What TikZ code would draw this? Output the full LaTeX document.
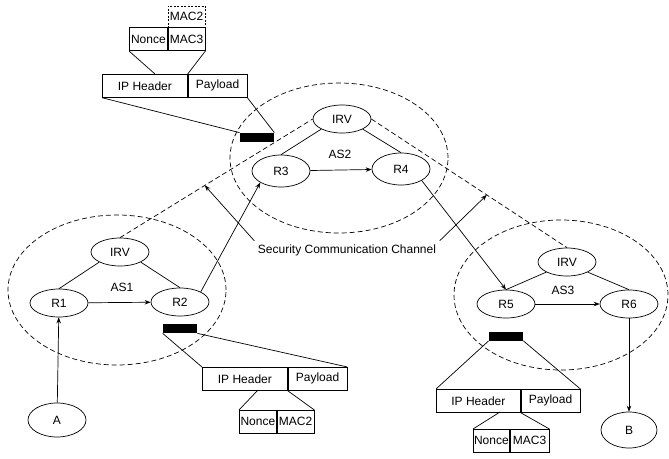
\documentclass[tikz,border=0pt]{standalone}
\usepackage{fontspec}
\setmainfont{Liberation Sans}
\usetikzlibrary{shapes.geometric,positioning,arrows.meta}

\tikzset{
  router/.style={ellipse, draw, minimum width=58pt, minimum height=28pt, inner sep=0pt},
  cell/.style={draw, minimum height=23pt, inner sep=0pt},
  tag/.style={fill=black, minimum width=34pt, minimum height=9pt, inner sep=0pt},
  asline/.style={dash pattern=on 5pt off 3pt},
}

\begin{document}
\begin{tikzpicture}[x=1pt, y=-1pt, line width=0.7pt, >={Stealth[length=6pt, width=4.5pt]}, font=\fontsize{12}{14}\selectfont]
  \useasboundingbox (0,0) rectangle (669,458);

  % Domains AS1, AS2, AS3
  \draw[asline] (117,290) ellipse [x radius=109pt, y radius=75pt];
  \draw[asline] (339,158) ellipse [x radius=109pt, y radius=75pt];
  \draw[asline] (561,295) ellipse [x radius=107pt, y radius=75pt];

  % Routers of AS1
  \node[router] (irv1) at (120,252) {IRV};
  \node[router] (r1) at (59,303) {R1};
  \node[router] (r2) at (180,302) {R2};
  \node (as1) at (122,287) {AS1};
  \node[router, minimum height=34pt] (a) at (57,420) {A};

  % Routers of AS2
  \node[router] (irv2) at (342,119) {IRV};
  \node[router, minimum height=32pt] (r3) at (281,171) {R3};
  \node[router, minimum height=32pt] (r4) at (401,169) {R4};
  \node (as2) at (340,154) {AS2};

  % Routers of AS3
  \node[router] (irv3) at (567,262) {IRV};
  \node[router] (r5) at (506,304) {R5};
  \node[router] (r6) at (629,304) {R6};
  \node (as3) at (563,290) {AS3};
  \node[router, minimum width=56pt, minimum height=36pt] (b) at (629,430) {B};

  % Links
  \draw (irv1.south west) -- (r1.north);
  \draw (irv1.south east) -- (r2.north);
  \draw[->] (r1) -- (r2);
  \draw[->] (a) -- (r1);
  \draw[->] (r2.north east) -- (r3.south west);
  \draw (irv2.south west) -- (r3.north);
  \draw (irv2.south east) -- (r4.north);
  \draw[->] (r3) -- (r4);
  \draw[->] (r4.south east) -- (r5.north);
  \draw (irv3.south west) -- (r5.north);
  \draw (irv3.south east) -- (r6.north);
  \draw[->] (r5) -- (r6);
  \draw[->] (r6) -- (b);

  % Security channel
  \draw[asline] (irv1.north) -- coordinate[pos=0.44] (ch1) (irv2.west);
  \draw[asline] (irv2.east) -- coordinate[pos=0.59] (ch2) (irv3.north);
  \node (chan) at (347,250) {Security Communication Channel};
  \draw[->] (chan.north west) -- (ch1);
  \draw[->] (chan.north east) -- (ch2);

  % Packet at AS2
  \node[tag] (tag1) at (257,137.5) {};
  \node[cell, minimum width=85pt, anchor=north west] (iph1) at (102,74) {IP Header};
  \node[cell, minimum width=59pt, right=0pt of iph1] (pay1) {Payload};
  \node[cell, minimum width=38pt, anchor=south west] (nonce1) at (129,51) {Nonce};
  \node[cell, minimum width=37pt, right=0pt of nonce1] (mac1) {MAC3};
  \node[cell, dash pattern=on 2pt off 1.5pt, minimum width=37pt, minimum height=21pt, above=0pt of mac1] (mac1b) {MAC2};
  \coordinate (j1) at (155,74);
  \draw (nonce1.south west) -- (j1);
  \draw (mac1.south east) -- (iph1.north east);
  \draw (iph1.south west) -- (tag1.north west);
  \draw (pay1.south east) -- (tag1.north east);

  % Packet at AS1
  \node[tag] (tag2) at (180,328.5) {};
  \node[cell, minimum width=85pt, anchor=north west] (iph2) at (202,367) {IP Header};
  \node[cell, minimum width=59pt, right=0pt of iph2] (pay2) {Payload};
  \node[cell, minimum width=37pt, anchor=north west] (nonce2) at (239,410) {Nonce};
  \node[cell, minimum width=37pt, right=0pt of nonce2] (mac2) {MAC2};
  \coordinate (j2) at (258,390);
  \draw (tag2.south west) -- (iph2.north west);
  \draw (tag2.south east) -- (pay2.north east);
  \draw (j2) -- (nonce2.north west);
  \draw (iph2.south east) -- (mac2.north east);

  % Packet at AS3
  \node[tag] (tag3) at (506,336) {};
  \node[cell, minimum width=84pt, anchor=north west] (iph3) at (436,389) {IP Header};
  \node[cell, minimum width=59pt, right=0pt of iph3] (pay3) {Payload};
  \node[cell, minimum width=36pt, anchor=north west] (nonce3) at (473,429) {Nonce};
  \node[cell, minimum width=39pt, right=0pt of nonce3] (mac3) {MAC3};
  \coordinate (j3) at (500,412);
  \draw (tag3.south west) -- (iph3.north west);
  \draw (tag3.south east) -- (pay3.north east);
  \draw (j3) -- (nonce3.north west);
  \draw (iph3.south east) -- (mac3.north east);
\end{tikzpicture}
\end{document}
